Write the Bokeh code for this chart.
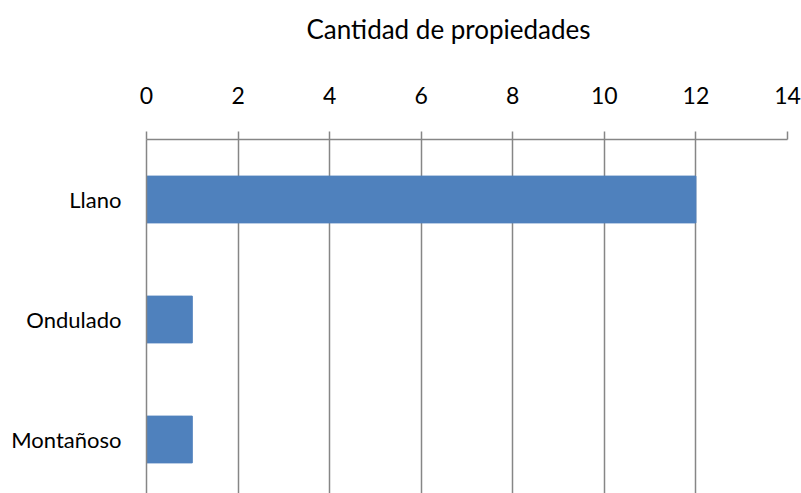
from bokeh.plotting import figure
from bokeh.models import Range1d, FixedTicker
from bokeh.embed import file_html
from bokeh.resources import INLINE

categories = ["Llano", "Ondulado", "Montañoso"]
values = [12, 1, 1]
x_ticks = [0, 2, 4, 6, 8, 10, 12, 14]
x_title = "Cantidad de propiedades"

ypos = list(range(len(categories)))
GRAY = "#868686"
FONT = "Lato"

p = figure(width=801, height=493, output_backend="svg", toolbar_location=None,
           x_axis_location="above",
           x_range=Range1d(0, 14), y_range=Range1d(2.45, -0.5),
           min_border_left=146, min_border_right=14, min_border_top=139, min_border_bottom=0)
p.hbar(y=ypos, left=0, right=values, height=0.39, color="#4F81BD")

p.outline_line_color = None
p.background_fill_color = "white"
p.border_fill_color = "white"

# axis title, centred over the whole chart as in the original; the empty
# second line lifts it to the top of the chart
p.title.text = x_title + "\n"
p.title.text_font = FONT
p.title.text_font_style = "normal"
p.title.text_font_size = "26px"
p.title.text_color = "black"
p.title.align = "left"
p.title.offset = 160
p.title.standoff = 14

xa = p.xaxis[0]
xa.ticker = FixedTicker(ticks=x_ticks)
xa.major_label_text_font = FONT
xa.major_label_text_font_size = "23px"
xa.major_label_text_color = "black"
xa.major_label_standoff = 28
xa.axis_line_color = GRAY
xa.axis_line_width = 1.5
xa.major_tick_line_color = GRAY
xa.major_tick_line_width = 1.5
xa.major_tick_out = 8
xa.major_tick_in = 0
xa.minor_tick_line_color = None

ya = p.yaxis[0]
ya.ticker = FixedTicker(ticks=ypos)
ya.major_label_overrides = {i: c for i, c in zip(ypos, categories)}
ya.major_label_text_font = FONT
ya.major_label_text_font_size = "22px"
ya.major_label_text_color = "black"
ya.major_label_standoff = 25
ya.axis_line_color = GRAY
ya.axis_line_width = 1.5
ya.major_tick_line_color = None
ya.major_tick_out = 0
ya.major_tick_in = 0
ya.minor_tick_line_color = None

p.xgrid.ticker = FixedTicker(ticks=x_ticks)
p.xgrid.grid_line_color = GRAY
p.xgrid.grid_line_width = 1.5
p.ygrid.grid_line_color = None

open("out.html", "w").write(file_html(p, INLINE))
